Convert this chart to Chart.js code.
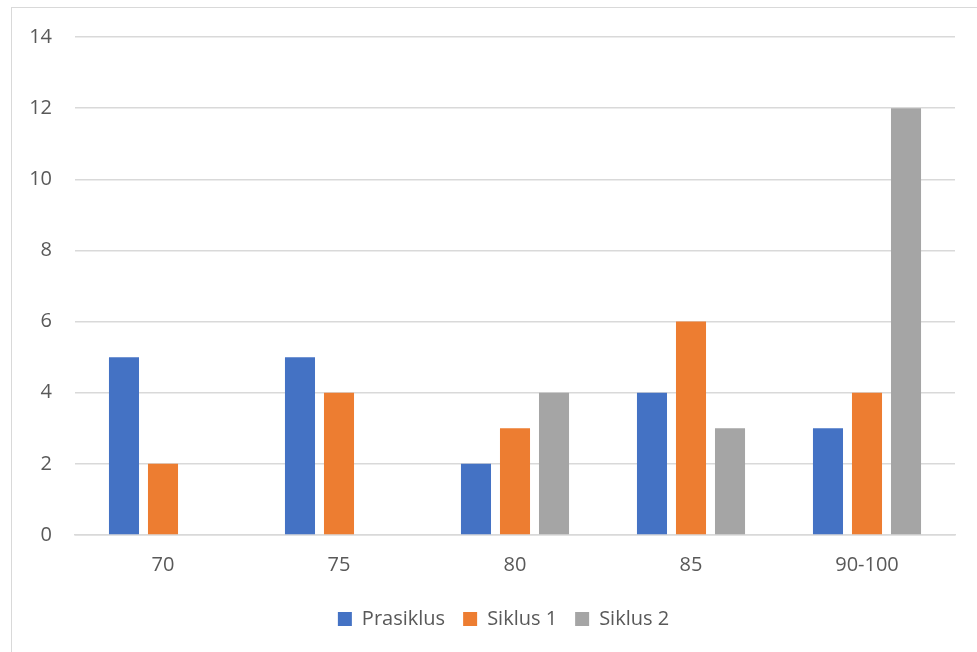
<!DOCTYPE html>
<html>
<head>
<meta charset="utf-8">
<script src="https://cdn.jsdelivr.net/npm/chart.js@4/dist/chart.umd.min.js"></script>
<style>
  html, body { margin: 0; padding: 0; background: #fff; }
  #wrap { position: relative; width: 977px; height: 652px; }
  #frame { position: absolute; left: 11px; top: 7px; width: 980px; height: 660px; border: 1px solid #d9d9d9; box-sizing: border-box; pointer-events: none; }
  canvas { position: absolute; left: 0; top: 0; }
</style>
</head>
<body>
<div id="wrap">
  <div id="frame"></div>
  <canvas id="c" width="977" height="652"></canvas>
</div>
<script>
const categories = ["70", "75", "80", "85", "90-100"];
const seriesNames = ["Prasiklus", "Siklus 1", "Siklus 2"];
const prasiklus = [5, 5, 2, 4, 3];
const siklus1 = [2, 4, 3, 6, 4];
const siklus2 = [0, 0, 4, 3, 12];
const yTicks = [0, 2, 4, 6, 8, 10, 12, 14];

const colors = ["#4472C4", "#ED7D31", "#A5A5A5"];
const FONT = "'Open Sans', sans-serif";

const legendShift = {
  id: "legendShift",
  afterLayout(chart) {
    if (chart.legend) { chart.legend.left += 26; chart.legend.right += 26; }
  }
};

new Chart(document.getElementById("c"), {
  type: "bar",
  data: {
    labels: categories,
    datasets: [prasiklus, siklus1, siklus2].map((d, i) => ({
      label: seriesNames[i],
      data: d,
      backgroundColor: colors[i],
      borderWidth: 0,
      categoryPercentage: 0.665,
      barPercentage: 0.77
    }))
  },
  plugins: [legendShift],
  options: {
    responsive: false,
    animation: false,
    layout: { padding: { left: 0, right: 22, top: 37, bottom: 13 } },
    plugins: {
      tooltip: { enabled: false },
      legend: {
        position: "bottom",
        labels: {
          boxWidth: 14, boxHeight: 14, padding: 18,
          color: "#595959",
          font: { family: FONT, size: 20 }
        }
      }
    },
    scales: {
      x: {
        grid: { display: false, drawTicks: false },
        border: { display: true, color: "#d9d9d9", width: 1.5 },
        ticks: { color: "#595959", font: { family: FONT, size: 20 }, padding: 18 },
        afterFit: s => { s.height = 56; }
      },
      y: {
        min: 0, max: 14,
        afterBuildTicks: s => { s.ticks = yTicks.map(v => ({ value: v })); },
        grid: { color: "#d9d9d9", lineWidth: 1.5, drawTicks: false },
        border: { display: false },
        ticks: { color: "#595959", font: { family: FONT, size: 20 }, padding: 23 },
        afterFit: s => { s.width = 75; }
      }
    }
  }
});
</script>
</body>
</html>
